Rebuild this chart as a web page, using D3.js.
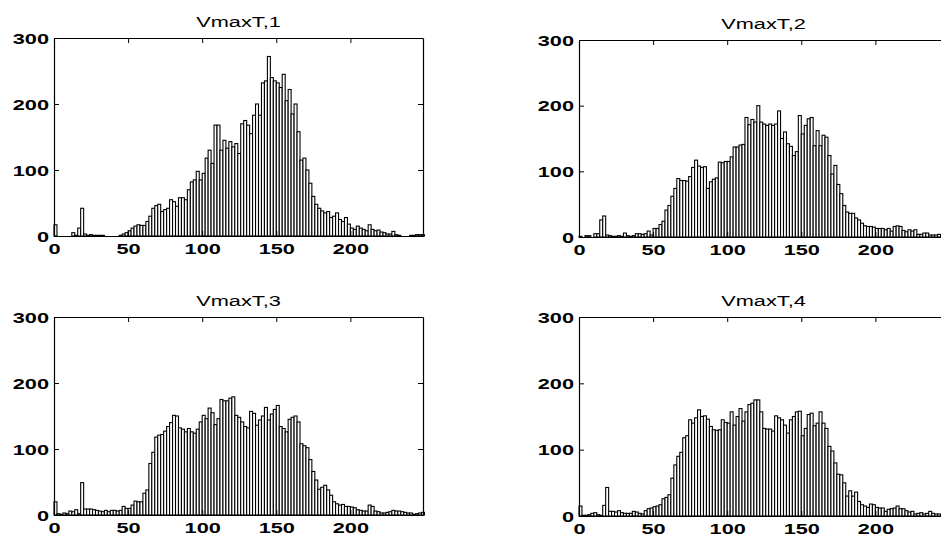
<!DOCTYPE html>
<html>
<head>
<meta charset="utf-8">
<script src="https://cdn.jsdelivr.net/npm/d3@7"></script>
<style>
  body { margin: 0; background: #fff; }
  svg text { font-family: "Liberation Sans", Arial, Helvetica, sans-serif; fill: #000; }
</style>
</head>
<body>
<div id="plot"></div>
<script>
// histogram counts, bins of width 2 starting at 0
let binWidth = 2;
let xTicks = [0, 50, 100, 150, 200];
let yTicks = [0, 100, 200, 300];
let titles = ["VmaxT,1", "VmaxT,2", "VmaxT,3", "VmaxT,4"];

let countsT1 = [
  17, 0, 0, 0, 0, 0, 5, 1, 12, 42,
  3, 1, 2, 1, 1, 1, 1, 0, 0, 0,
  0, 0, 1, 3, 5, 8, 12, 15, 17, 16,
  16, 22, 30, 42, 46, 48, 37, 40, 42, 55,
  52, 45, 58, 58, 55, 70, 82, 85, 98, 85,
  95, 118, 130, 110, 168, 168, 130, 145, 133, 143,
  135, 140, 125, 170, 175, 168, 155, 183, 200, 183,
  232, 235, 272, 240, 235, 232, 225, 245, 205, 222,
  185, 200, 158, 115, 118, 100, 80, 60, 48, 42,
  38, 35, 37, 28, 30, 35, 25, 22, 28, 18,
  12, 10, 15, 12, 10, 8, 17, 10, 8, 9,
  6, 5, 3, 3, 7, 2, 1, 0, 0, 0,
  1, 1, 2, 2, 2
];

let countsT2 = [
  1, 0, 2, 2, 0, 5, 5, 26, 32, 3,
  2, 1, 1, 2, 1, 6, 2, 1, 2, 5,
  5, 4, 5, 9, 3, 13, 13, 19, 24, 41,
  48, 62, 74, 89, 86, 86, 85, 92, 106, 117,
  108, 106, 107, 74, 84, 88, 90, 114, 113, 115,
  115, 122, 137, 137, 140, 141, 182, 171, 179, 175,
  200, 175, 172, 170, 172, 170, 172, 192, 150, 160,
  142, 138, 124, 130, 185, 157, 170, 180, 182, 139,
  162, 139, 155, 152, 124, 96, 109, 80, 66, 48,
  38, 36, 36, 29, 26, 21, 17, 16, 16, 15,
  13, 13, 13, 11, 13, 9, 16, 17, 16, 10,
  8, 11, 9, 11, 4, 4, 6, 6, 3, 3,
  3, 4, 2, 3, 2
];

let countsT3 = [
  20, 2, 1, 3, 2, 6, 5, 8, 2, 49,
  9, 9, 9, 8, 7, 6, 5, 7, 5, 7,
  7, 6, 7, 13, 10, 10, 15, 21, 20, 20,
  33, 38, 78, 95, 118, 121, 122, 127, 134, 140,
  151, 150, 132, 130, 126, 131, 126, 124, 130, 141,
  151, 146, 162, 155, 137, 146, 175, 173, 173, 177,
  179, 151, 148, 141, 134, 132, 157, 154, 136, 144,
  150, 163, 144, 153, 160, 166, 134, 131, 126, 145,
  148, 150, 141, 108, 105, 102, 84, 66, 53, 39,
  42, 45, 38, 30, 20, 17, 15, 16, 13, 13,
  12, 11, 8, 7, 6, 6, 15, 13, 6, 5,
  3, 3, 4, 5, 7, 6, 6, 5, 4, 3,
  3, 1, 2, 3, 4
];

let countsT4 = [
  15, 1, 1, 2, 4, 5, 2, 1, 16, 43,
  7, 7, 6, 8, 5, 4, 4, 4, 7, 6,
  4, 3, 8, 11, 12, 14, 15, 17, 26, 28,
  32, 57, 77, 90, 96, 118, 121, 145, 140, 148,
  160, 150, 151, 146, 135, 130, 129, 130, 145, 141,
  140, 157, 137, 150, 162, 143, 157, 168, 170, 175,
  175, 157, 132, 131, 131, 128, 151, 148, 145, 137,
  125, 145, 150, 157, 158, 121, 132, 153, 155, 136,
  140, 157, 140, 132, 105, 98, 80, 63, 62, 50,
  30, 38, 30, 36, 22, 17, 15, 13, 18, 17,
  13, 12, 12, 7, 10, 11, 12, 15, 11, 11,
  8, 6, 7, 3, 4, 5, 3, 4, 7, 4,
  3, 3, 2, 3, 2
];

let allCounts = [countsT1, countsT2, countsT3, countsT4];

// panel frames in page pixels
let frames = [
  {left: 54,  right: 423, top: 38,  bottom: 236},
  {left: 579, right: 948, top: 40,  bottom: 237},
  {left: 54,  right: 423, top: 317, bottom: 515},
  {left: 579, right: 948, top: 317, bottom: 516}
];

let width = 941, height = 536;
let stretch = 1.45;   // the scan's lettering is wide

let svg = d3.select("#plot").append("svg")
  .attr("width", width)
  .attr("height", height)
  .style("display", "block");

function drawPanel(counts, title, f) {
  let x = d3.scaleLinear().domain([0, 249]).range([f.left, f.right]);
  let y = d3.scaleLinear().domain([0, 300]).range([f.bottom, f.top]);

  let g = svg.append("g");

  g.selectAll("rect.bar")
    .data(counts)
    .enter()
    .append("rect")
    .attr("class", "bar")
    .attr("x", (d, i) => x(i * binWidth))
    .attr("width", (d, i) => x((i + 1) * binWidth) - x(i * binWidth))
    .attr("y", d => y(d))
    .attr("height", d => y(0) - y(d))
    .style("fill", "white")
    .style("stroke", "black")
    .style("stroke-width", 1.1);

  // box with inward ticks on all four sides
  let yAx = g.append("g").attr("transform", `translate(${f.left},0)`)
    .call(d3.axisLeft(y).tickValues(yTicks).tickSizeInner(-5).tickSizeOuter(0));
  let rAx = g.append("g").attr("transform", `translate(${f.right},0)`)
    .call(d3.axisRight(y).tickValues(yTicks).tickSizeInner(-5).tickSizeOuter(0));
  let xAx = g.append("g").attr("transform", `translate(0,${f.bottom})`)
    .call(d3.axisBottom(x).tickValues(xTicks).tickSizeInner(-5).tickSizeOuter(0));
  let tAx = g.append("g").attr("transform", `translate(0,${f.top})`)
    .call(d3.axisTop(x).tickValues(xTicks).tickSizeInner(-5).tickSizeOuter(0));

  [yAx, rAx, xAx, tAx].forEach(ax => {
    ax.attr("font-family", null).attr("font-size", null);
    ax.select(".domain").attr("stroke", "black").attr("stroke-width", 1.2);
    ax.selectAll(".tick line").attr("stroke", "black");
  });
  rAx.selectAll(".tick text").remove();
  tAx.selectAll(".tick text").remove();

  yAx.selectAll(".tick text")
    .attr("font-size", 15).attr("font-weight", "bold")
    .attr("x", 0).attr("dy", "0.35em")
    .attr("text-anchor", "end")
    .attr("transform", `translate(-5,0) scale(${stretch},1)`);

  xAx.selectAll(".tick text")
    .attr("font-size", 15).attr("font-weight", "bold")
    .attr("y", 0).attr("dy", "0.35em")
    .attr("text-anchor", "middle")
    .attr("transform", `translate(0,13) scale(${stretch},1)`);

  g.append("text")
    .attr("text-anchor", "middle")
    .attr("font-size", 15)
    .attr("transform", `translate(${(f.left + f.right) / 2},${f.top - 11}) scale(${stretch},1)`)
    .text(title);
}

allCounts.forEach((c, i) => drawPanel(c, titles[i], frames[i]));
</script>
</body>
</html>
